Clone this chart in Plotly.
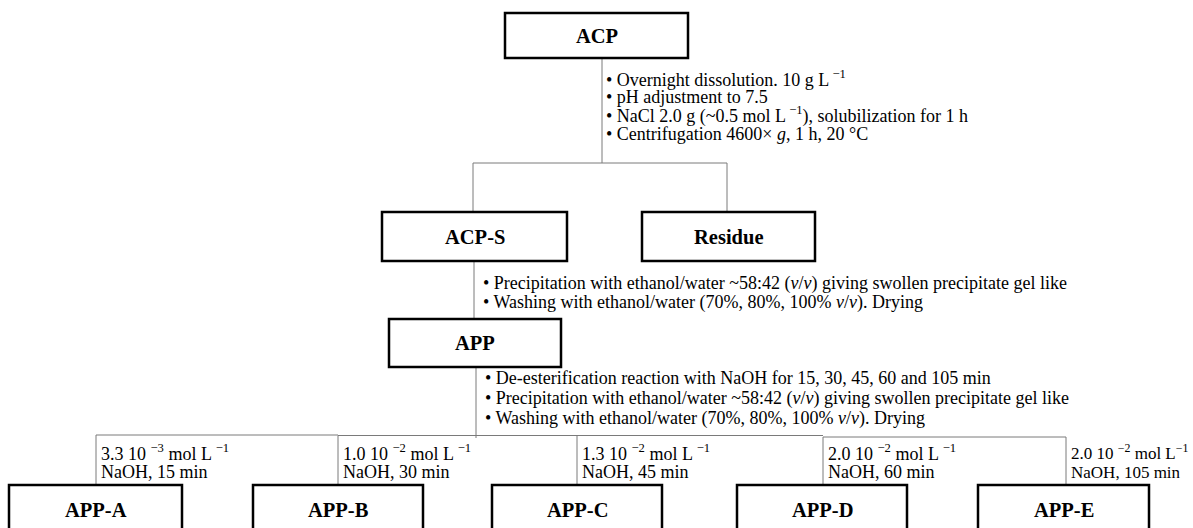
import plotly.graph_objects as go

# ---------------- data (texts) ----------------
top_node = "ACP"
mid_nodes = ["ACP-S", "Residue"]
app_node = "APP"
final_nodes = ["APP-A", "APP-B", "APP-C", "APP-D", "APP-E"]

acp_steps = [
    "• Overnight dissolution. 10 g L<sup> −1</sup>",
    "• pH adjustment to 7.5",
    "• NaCl 2.0 g (~0.5 mol L<sup> −1</sup>), solubilization for 1 h",
    "• Centrifugation 4600× <i>g</i>, 1 h, 20 °C",
]
acps_steps = [
    "• Precipitation with ethanol/water ~58:42 (<i>v</i>/<i>v</i>) giving swollen precipitate gel like",
    "• Washing with ethanol/water (70%, 80%, 100% <i>v</i>/<i>v</i>). Drying",
]
app_steps = [
    "• De-esterification reaction with NaOH for 15, 30, 45, 60 and 105 min",
    "• Precipitation with ethanol/water ~58:42 (<i>v</i>/<i>v</i>) giving swollen precipitate gel like",
    "• Washing with ethanol/water (70%, 80%, 100% <i>v</i>/<i>v</i>). Drying",
]
naoh_conc = [
    "3.3 10 <sup>−3</sup> mol L <sup>−1</sup>",
    "1.0 10 <sup>−2</sup> mol L <sup>−1</sup>",
    "1.3 10 <sup>−2</sup> mol L <sup>−1</sup>",
    "2.0 10 <sup>−2</sup> mol L <sup>−1</sup>",
    "2.0 10 <sup>−2</sup> mol L<sup>−1</sup>",
]
naoh_time = ["NaOH, 15 min", "NaOH, 30 min", "NaOH, 45 min", "NaOH, 60 min", "NaOH, 105 min"]

# ---------------- layout geometry (pixels) ----------------
W, H = 1193, 528
FONT = "Liberation Serif, Times New Roman, serif"
BOX_LW = 2.5
LINE_C = "#7a7a7a"
TXT = 18
BOLD = 20.5

acp_box = (505, 688, 13, 58)
mid_boxes = [(382, 567, 212, 261), (642, 815, 212, 261)]
app_box = (389, 561, 319, 367)
final_boxes = [(9, 182), (253, 423), (492, 662), (737, 907), (978, 1149)]
final_y = (485, 545)
label_x = [96, 338, 577, 823, 1066]
label_top = [435, 435.5, 435.5, 437, 437]

fig = go.Figure()
shapes = []
annotations = []


def box(x0, x1, y0, y1, text, ty):
    shapes.append(dict(type="rect", x0=x0, x1=x1, y0=y0, y1=y1,
                       line=dict(color="black", width=BOX_LW), fillcolor="white", layer="above"))
    annotations.append(dict(x=(x0 + x1) / 2, y=ty, text="<b>" + text + "</b>", showarrow=False,
                            xanchor="center", yanchor="middle",
                            font=dict(family=FONT, size=BOLD, color="black")))


def line(x0, y0, x1, y1):
    shapes.append(dict(type="line", x0=x0, y0=y0, x1=x1, y1=y1,
                       line=dict(color=LINE_C, width=1), layer="below"))


def text(x, y, t, size=TXT):
    annotations.append(dict(x=x, y=y, text=t, showarrow=False, xanchor="left", yanchor="middle",
                            font=dict(family=FONT, size=size, color="black")))


# connectors
line(602, acp_box[3], 602, 163)
line(473, 163, 727, 163)
line(473, 163, 473, 212)
line(727, 163, 727, 212)
line(474, 261, 474, 319)
line(476, 367, 476, 438)

# label frames for NaOH treatments
for i, lx in enumerate(label_x):
    line(lx, label_top[i], lx, final_y[0])
    if i < len(label_x) - 1:
        line(lx, label_top[i], label_x[i + 1], label_top[i])

# boxes
box(*acp_box, top_node, 36)
for (x0, x1, y0, y1), name in zip(mid_boxes, mid_nodes):
    box(x0, x1, y0, y1, name, 237)
box(*app_box, app_node, 343)
for (x0, x1), name in zip(final_boxes, final_nodes):
    box(x0, x1, final_y[0], final_y[1], name, 510)

# bullet texts
for t, y in zip(acp_steps, [78, 96.5, 115, 133.5]):
    text(604, y, t)
for t, y in zip(acps_steps, [283, 302]):
    text(481, y, t)
for t, y in zip(app_steps, [378, 398, 418.5]):
    text(483, y, t)

# NaOH labels
for i, (lx, c, tm) in enumerate(zip(label_x, naoh_conc, naoh_time)):
    sz = TXT if i < len(label_x) - 1 else 17
    text(lx + 3, 452, c, size=sz)
    text(lx + 3, 472, tm, size=sz)

fig.update_layout(
    width=W, height=H, margin=dict(l=0, r=0, t=0, b=0),
    paper_bgcolor="white", plot_bgcolor="white",
    xaxis=dict(range=[0, W], visible=False, fixedrange=True),
    yaxis=dict(range=[H, 0], visible=False, fixedrange=True),
    shapes=shapes, annotations=annotations, showlegend=False,
)
fig.write_html("out.html", config={"displayModeBar": False},
               post_script="document.body.style.margin='0';document.body.style.overflow='hidden';")
